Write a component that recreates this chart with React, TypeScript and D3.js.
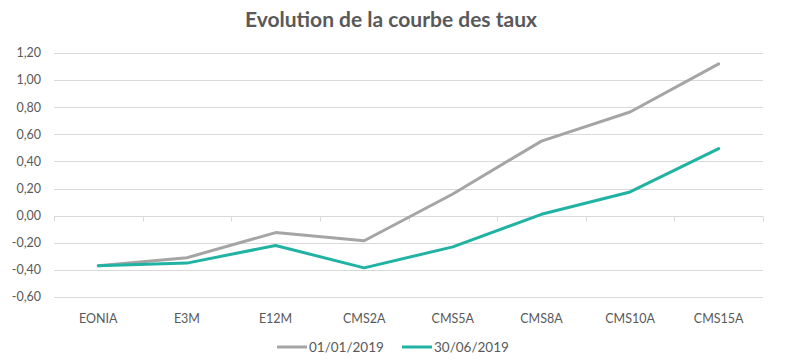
import React, { useEffect, useRef } from 'react';
import * as d3 from 'd3';

const categories = ['EONIA', 'E3M', 'E12M', 'CMS2A', 'CMS5A', 'CMS8A', 'CMS10A', 'CMS15A'];
const seriesJan = [-0.37, -0.31, -0.125, -0.185, 0.16, 0.55, 0.765, 1.12];
const seriesJun = [-0.37, -0.35, -0.22, -0.385, -0.23, 0.01, 0.175, 0.495];
const seriesNames = ['01/01/2019', '30/06/2019'];
const yTicks = [-0.6, -0.4, -0.2, 0, 0.2, 0.4, 0.6, 0.8, 1.0, 1.2];

const colors = ['#A5A5A5', '#20B2A3'];
const font = 'Lato, "Open Sans", sans-serif';

const App: React.FC = () => {
  const svgRef = useRef<SVGSVGElement | null>(null);

  useEffect(() => {
    if (!svgRef.current) return;
    const W = 789;
    const H = 364;
    const margin = { top: 53, right: 26, bottom: 67, left: 54 };

    const svg = d3.select(svgRef.current);
    svg.selectAll('*').remove();

    svg.append('rect').attr('width', W).attr('height', H).attr('fill', '#fff');

    const x = d3
      .scaleBand<string>()
      .domain(categories)
      .range([margin.left, W - margin.right]);
    const y = d3
      .scaleLinear()
      .domain([-0.6, 1.2])
      .range([H - margin.bottom, margin.top]);

    // title
    svg
      .append('text')
      .attr('x', 391)
      .attr('y', 27)
      .attr('text-anchor', 'middle')
      .attr('font-family', font)
      .attr('font-weight', 'bold')
      .attr('font-size', 21)
      .attr('fill', '#595959')
      .text('Evolution de la courbe des taux');

    // gridlines
    svg
      .append('g')
      .selectAll('line')
      .data(yTicks)
      .join('line')
      .attr('x1', margin.left)
      .attr('x2', W - margin.right)
      .attr('y1', (d) => Math.round(y(d)) + 0.5)
      .attr('y2', (d) => Math.round(y(d)) + 0.5)
      .attr('stroke', '#D9D9D9')
      .attr('stroke-width', 1);

    // y labels
    const fmt = (v: number) => v.toFixed(2).replace('.', ',');
    svg
      .append('g')
      .selectAll('text')
      .data(yTicks)
      .join('text')
      .attr('x', 41)
      .attr('y', (d) => y(d))
      .attr('dy', '0.35em')
      .attr('text-anchor', 'end')
      .attr('font-family', font)
      .attr('font-size', 12.5)
      .attr('fill', '#595959')
      .text((d) => fmt(d));

    // category axis on zero line
    const y0 = Math.round(y(0)) + 0.5;
    const tickXs = categories.map((c) => x(c) as number).concat([W - margin.right]);
    svg
      .append('g')
      .selectAll('line')
      .data(tickXs)
      .join('line')
      .attr('x1', (d) => Math.round(d) + 0.5)
      .attr('x2', (d) => Math.round(d) + 0.5)
      .attr('y1', y0)
      .attr('y2', y0 + 5)
      .attr('stroke', '#D9D9D9');

    // x labels
    svg
      .append('g')
      .selectAll('text')
      .data(categories)
      .join('text')
      .attr('x', (d) => (x(d) as number) + x.bandwidth() / 2)
      .attr('y', 323)
      .attr('text-anchor', 'middle')
      .attr('font-family', font)
      .attr('font-size', 12.5)
      .attr('fill', '#595959')
      .text((d) => d);

    // lines
    const line = d3
      .line<number>()
      .x((_, i) => (x(categories[i]) as number) + x.bandwidth() / 2)
      .y((d) => y(d));

    [seriesJan, seriesJun].forEach((s, i) => {
      svg
        .append('path')
        .datum(s)
        .attr('d', line)
        .attr('fill', 'none')
        .attr('stroke', colors[i])
        .attr('stroke-width', 3)
        .attr('stroke-linejoin', 'round')
        .attr('stroke-linecap', 'round');
    });

    // legend
    const legendX = [277, 402];
    seriesNames.forEach((name, i) => {
      const g = svg.append('g').attr('transform', `translate(${legendX[i]},347)`);
      g.append('line')
        .attr('x1', 0)
        .attr('x2', 30)
        .attr('y1', 0)
        .attr('y2', 0)
        .attr('stroke', colors[i])
        .attr('stroke-width', 3);
      g.append('text')
        .attr('x', 32)
        .attr('y', 0)
        .attr('dy', '0.35em')
        .attr('font-family', font)
        .attr('font-size', 13.5)
        .attr('fill', '#595959')
        .text(name);
    });
  }, []);

  return (
    <svg
      ref={svgRef}
      width={789}
      height={364}
      style={{ position: 'absolute', left: 0, top: 0, display: 'block' }}
    />
  );
};

export default App;
